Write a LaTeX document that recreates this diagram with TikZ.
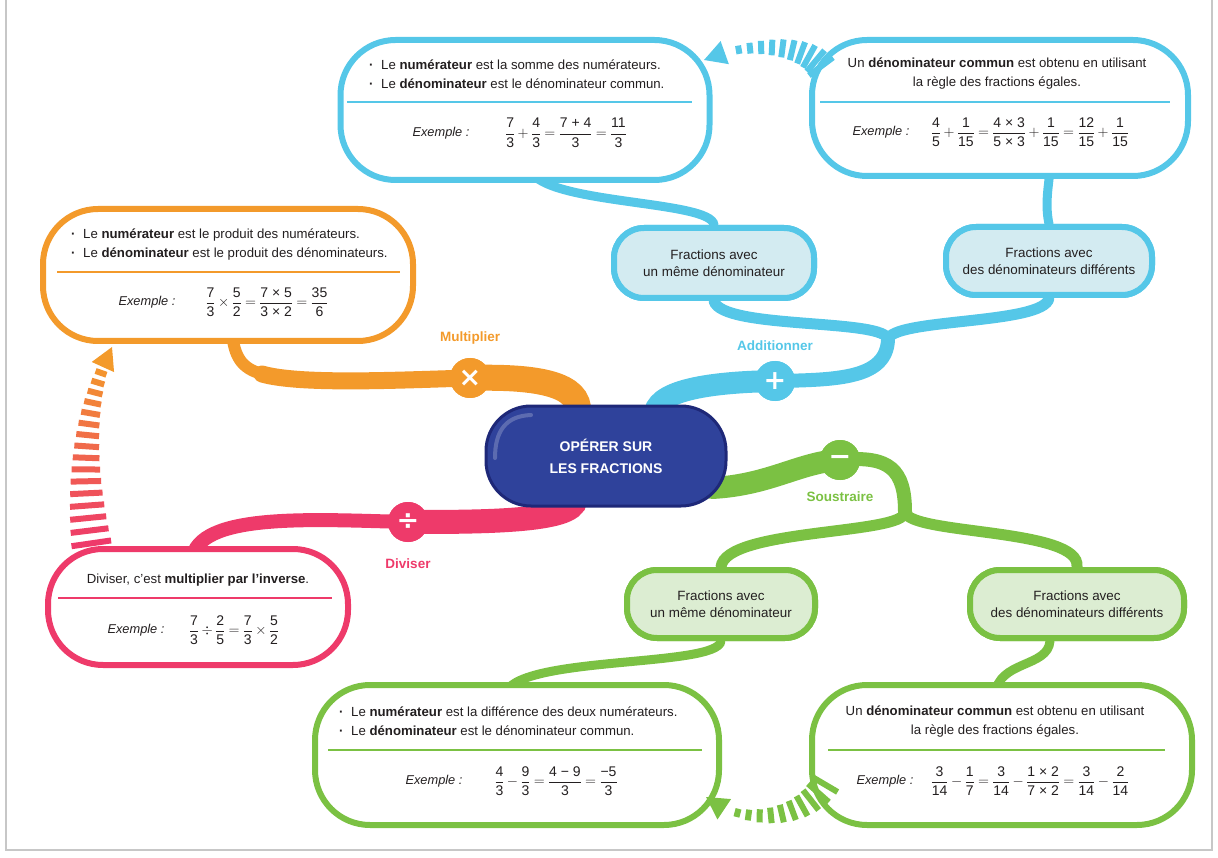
\documentclass[tikz,border=0pt]{standalone}
\usepackage{amsmath}
\usepackage{fontspec}
\setmainfont{Liberation Sans}
\newfontfamily\symfont{DejaVu Sans}
\usetikzlibrary{arrows.meta,positioning}
\definecolor{orangec}{HTML}{F39A2B}
\definecolor{bluec}{HTML}{55C7E8}
\definecolor{bluefill}{HTML}{D3EBF1}
\definecolor{pinkc}{HTML}{EE3A6A}
\definecolor{greenc}{HTML}{7BC143}
\definecolor{greenfill}{HTML}{DCEDD2}
\definecolor{navyc}{HTML}{2F429B}
\definecolor{navyd}{HTML}{1E2878}
\definecolor{inkc}{HTML}{231F20}
\newcommand\fr[2]{\dfrac{\text{#1}}{\text{#2}}}
\newcommand\eqn[1]{$\medmuskip=3mu \thickmuskip=4mu #1$}
\newcommand\puce{\makebox[12pt][l]{\textbf{·}}}
\tikzset{
  bigbox/.style={draw=#1, fill=white, line width=6pt, rounded corners=55pt},
  midbox/.style 2 args={draw=#1, fill=#2, line width=6pt, rounded corners=30pt,
               align=center, text=inkc, font=\fontsize{13.4}{17}\selectfont},
  txt/.style={inner sep=0pt, text=inkc, font=\fontsize{13.2}{19}\selectfont},
  exlabel/.style={inner sep=0pt, text=inkc, font=\itshape\fontsize{12.8}{15}\selectfont},
  eqtxt/.style={inner sep=0pt, text=inkc, font=\fontsize{14}{16}\selectfont},
  rule/.style={draw=#1, line width=1.4pt},
  branch/.style={line width=#1pt, line cap=round},
  opcircle/.style={circle, fill=#1, minimum size=40pt, inner sep=0pt, text=white,
                   font=\symfont\bfseries\fontsize{27}{27}\selectfont},
  oplabel/.style={text=#1, inner sep=0pt, font=\bfseries\fontsize{13.5}{16}\selectfont},
  stripe/.style={sloped, rectangle, inner sep=0pt, minimum width=6pt},
  opsnode/.style={rounded corners=45pt, fill=navyc, draw=navyd, line width=3pt,
                  minimum width=240pt, minimum height=100pt, text=white, align=center,
                  font=\bfseries\fontsize{14}{22}\selectfont},
}
\begin{document}
\begin{tikzpicture}[x=1pt, y=-1pt]
  \useasboundingbox (0,0) rectangle (1218,858);
  \draw[black!22, line width=2pt] (6,0) -- (6,850) -- (1212,850) -- (1212,0);

  % nodes first, branches drawn on the background later
  \node[opcircle=orangec] (mul) at (470,378) {×};
  \node[opcircle=bluec] (add) at (775,381) {+};
  \node[opcircle=greenc] (sub) at (840,460) {−};
  \node[opcircle=pinkc] (dvd) at (408,522) {÷};

  \node[midbox={bluec}{bluefill}, minimum width=200pt, minimum height=70pt] (addsame) at (714,263)
    {Fractions avec\\un même dénominateur};
  \node[midbox={bluec}{bluefill}, minimum width=206pt, minimum height=68pt] (adddiff) at (1049,261)
    {Fractions avec\\des dénominateurs différents};
  \node[midbox={greenc}{greenfill}, minimum width=188pt, minimum height=68pt] (subsame) at (721,604)
    {Fractions avec\\un même dénominateur};
  \node[midbox={greenc}{greenfill}, minimum width=214pt, minimum height=68pt] (subdiff) at (1077,604)
    {Fractions avec\\des dénominateurs différents};

  \coordinate (mulroot) at (578,412);
  \coordinate (mulbend) at (262,374);
  \coordinate (addroot) at (655,412);
  \coordinate (addfork) at (888,340);
  \coordinate (subroot) at (712,488);
  \coordinate (subfork) at (905,512);
  \coordinate (dvdroot) at (575,500);

  % branches
  \draw[branch=26, orangec] (mulroot) .. controls (580,385) and (540,376) .. (mul.center);
  \draw[branch=17, orangec] (mul.center) .. controls (400,380) and (300,385) .. (mulbend);
  \draw[branch=12, orangec] (mulbend) .. controls (240,368) and (235,355) .. (232,335);

  \draw[branch=22, bluec] (addroot) .. controls (660,388) and (720,382) .. (add.center);
  \draw[branch=14, bluec] (add.center) .. controls (840,380) and (886,378) .. (addfork);
  \draw[branch=11, bluec] (addfork) .. controls (888,318) and (722,330) .. (addsame.south);
  \draw[branch=11, bluec] (addfork) .. controls (890,318) and (1045,325) .. (adddiff.south);
  \draw[branch=9, bluec] (addsame.north) .. controls (712,200) and (545,205) .. (530,170);
  \draw[branch=9, bluec] (adddiff.north) .. controls (1045,205) and (1048,190) .. (1050,170);

  \draw[branch=22, greenc] (subroot) .. controls (770,485) and (800,462) .. (sub.center);
  \draw[branch=14, greenc] (sub.center) .. controls (890,455) and (905,470) .. (subfork);
  \draw[branch=11, greenc] (subfork) .. controls (905,535) and (725,528) .. (subsame.north);
  \draw[branch=11, greenc] (subfork) .. controls (910,535) and (1082,528) .. (subdiff.north);
  \draw[branch=9, greenc] (subsame.south) .. controls (718,668) and (512,655) .. (505,695);
  \draw[branch=9, greenc] ([xshift=-27pt]subdiff.south) .. controls (1048,668) and (998,660) .. (995,695);

  \draw[branch=24, pinkc] (dvdroot) .. controls (575,522) and (480,522) .. (dvd.center);
  \draw[branch=14, pinkc] (dvd.center) .. controls (320,520) and (205,512) .. (193,555);

  % redraw the middle nodes over their branches
  \node[midbox={bluec}{bluefill}, minimum width=200pt, minimum height=70pt] at (addsame)
    {Fractions avec\\un même dénominateur};
  \node[midbox={bluec}{bluefill}, minimum width=206pt, minimum height=68pt] at (adddiff)
    {Fractions avec\\des dénominateurs différents};
  \node[midbox={greenc}{greenfill}, minimum width=188pt, minimum height=68pt] at (subsame)
    {Fractions avec\\un même dénominateur};
  \node[midbox={greenc}{greenfill}, minimum width=214pt, minimum height=68pt] at (subdiff)
    {Fractions avec\\des dénominateurs différents};
  \node[opcircle=orangec] at (mul) {×};
  \node[opcircle=bluec] at (add) {+};
  \node[opcircle=greenc] at (sub) {−};
  \node[opcircle=pinkc] at (dvd) {÷};

  \node[oplabel=orangec, above=13pt of mul] {Multiplier};
  \node[oplabel=bluec, above=10pt of add] {Additionner};
  \node[oplabel=greenc, below=11pt of sub] {Soustraire};
  \node[oplabel=pinkc, below=16pt of dvd] {Diviser};

  % big boxes
  \node[bigbox=bluec, minimum width=369pt, minimum height=140pt] (addsamebox) at (525,110) {};
  \node[txt, anchor=west, align=left] at (369,74.5)
    {\puce Le \textbf{numérateur} est la somme des numérateurs.\\
     \puce Le \textbf{dénominateur} est le dénominateur commun.};
  \draw[rule=bluec] (347,102) -- (692,102);
  \node[exlabel] at (441,133) {Exemple :};
  \node[eqtxt] at (566,133) {\eqn{\fr{7}{3}+\fr{4}{3}=\fr{7 + 4}{3}=\fr{11}{3}}};

  \node[bigbox=bluec, minimum width=376pt, minimum height=136pt] (adddiffbox) at (1000,108) {};
  \node[txt, align=center] at (997,74)
    {Un \textbf{dénominateur commun} est obtenu en utilisant\\la règle des fractions égales.};
  \draw[rule=bluec] (820,102) -- (1170,102);
  \node[exlabel] at (881,132) {Exemple :};
  \node[eqtxt] at (1030,132) {\eqn{\fr{4}{5}+\fr{1}{15}=\fr{4 × 3}{5 × 3}+\fr{1}{15}=\fr{12}{15}+\fr{1}{15}}};

  \node[bigbox=orangec, minimum width=370pt, minimum height=132pt] (mulbox) at (228,275) {};
  \node[txt, anchor=west, align=left] at (71,245)
    {\puce Le \textbf{numérateur} est le produit des numérateurs.\\
     \puce Le \textbf{dénominateur} est le produit des dénominateurs.};
  \draw[rule=orangec] (57,272) -- (400,272);
  \node[exlabel] at (147,302) {Exemple :};
  \node[eqtxt] at (267,302) {\eqn{\fr{7}{3}\times\fr{5}{2}=\fr{7 × 5}{3 × 2}=\fr{35}{6}}};

  \node[bigbox=pinkc, minimum width=300pt, minimum height=116pt] (dvdbox) at (198,607) {};
  \node[txt] at (198,580) {Diviser, c’est \textbf{multiplier par l’inverse}.};
  \draw[rule=pinkc] (58,598) -- (332,598);
  \node[exlabel] at (136,630) {Exemple :};
  \node[eqtxt] at (234,630) {\eqn{\fr{7}{3}\div\fr{2}{5}=\fr{7}{3}\times\fr{5}{2}}};

  \node[bigbox=greenc, minimum width=404pt, minimum height=140pt] (subsamebox) at (517,755) {};
  \node[txt, anchor=west, align=left] at (339,721.5)
    {\puce Le \textbf{numérateur} est la différence des deux numérateurs.\\
     \puce Le \textbf{dénominateur} est le dénominateur commun.};
  \draw[rule=greenc] (328,750) -- (702,750);
  \node[exlabel] at (434,781) {Exemple :};
  \node[eqtxt] at (556,781) {\eqn{\fr{4}{3}-\fr{9}{3}=\fr{4 − 9}{3}=\fr{−5}{3}}};

  \node[bigbox=greenc, minimum width=380pt, minimum height=140pt] (subdiffbox) at (1002,755) {};
  \node[txt, align=center] at (995,721.5)
    {Un \textbf{dénominateur commun} est obtenu en utilisant\\la règle des fractions égales.};
  \draw[rule=greenc] (828,750) -- (1165,750);
  \node[exlabel] at (885,781) {Exemple :};
  \node[eqtxt] at (1030,781) {\eqn{\fr{3}{14}-\fr{1}{7}=\fr{3}{14}-\fr{1 × 2}{7 × 2}=\fr{3}{14}-\fr{2}{14}}};

  % striped arrows
  \coordinate (dvdback) at (92,548);
  \coordinate (mulback) at (112,347);
  \path (dvdback) .. controls (80,470) and (85,400) .. (mulback)
    coordinate[pos=0.9] (mulhead)
    \foreach \i [evaluate=\i as \p using 0.02+\i*0.055,
                 evaluate=\i as \w using 40-\i*1.9,
                 evaluate=\i as \m using 100-\i*6.25] in {0,...,15}
    { node[stripe, pos=\p, minimum height=\w, fill=pinkc!\m!orangec] {} };
  \draw[orangec, line width=2pt, -{Triangle[length=22pt,width=24pt]}] (mulhead) -- (mulback);

  \coordinate (diffback) at (822,68);
  \coordinate (sameback) at (704,60);
  \path (diffback) .. controls (805,42) and (745,42) .. (sameback)
    coordinate[pos=0.86] (samehead)
    \foreach \i [evaluate=\i as \p using 0.02+\i*0.08,
                 evaluate=\i as \w using 30-\i*2.4] in {0,...,9}
    { node[stripe, pos=\p, minimum height=\w, fill=bluec] {} };
  \draw[bluec, line width=2pt, -{Triangle[length=22pt,width=24pt]}] (samehead) -- (sameback);

  \coordinate (subdback) at (826,782);
  \coordinate (subsback) at (706,797);
  \path (subdback) .. controls (805,822) and (740,826) .. (subsback)
    coordinate[pos=0.88] (subshead)
    \foreach \i [evaluate=\i as \p using 0.02+\i*0.08,
                 evaluate=\i as \w using 30-\i*2.4] in {0,...,9}
    { node[stripe, pos=\p, minimum height=\w, fill=greenc] {} };
  \draw[greenc, line width=2pt, -{Triangle[length=22pt,width=24pt]}] (subshead) -- (subsback);

  % central node
  \node[opsnode] (ops) at (606,456) {OPÉRER SUR\\LES FRACTIONS};
  \draw[white, opacity=0.22, line width=4pt, line cap=round]
    (495,458) .. controls (495,432) and (505,416) .. (531,415);
\end{tikzpicture}
\end{document}
